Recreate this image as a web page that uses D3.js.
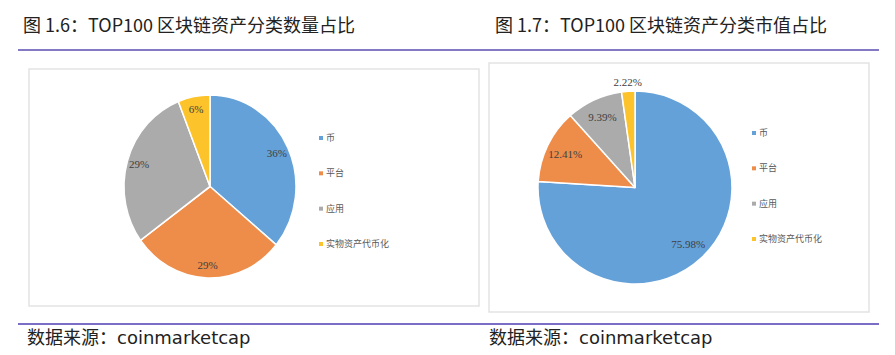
<!DOCTYPE html>
<html><head><meta charset="utf-8">
<script src="https://cdn.jsdelivr.net/npm/d3@7/dist/d3.min.js"></script>
<style>
html,body{margin:0;padding:0;background:#fff;}
svg{display:block;}
.serif{font-family:"Liberation Serif","DejaVu Serif",serif;}
.cjk{font-family:"Noto Sans CJK SC","Noto Sans",sans-serif;}
.mix{font-family:"DejaVu Sans","Noto Sans CJK SC",sans-serif;}
</style></head>
<body>
<svg id="c" width="895" height="355"></svg>
<script>
const categories = ["币", "平台", "应用", "实物资产代币化"];
const countShare = [36, 29, 29, 6];
const countLabels = ["36%", "29%", "29%", "6%"];
const valueShare = [75.98, 12.41, 9.39, 2.22];
const valueLabels = ["75.98%", "12.41%", "9.39%", "2.22%"];
const colors = ["#64a1d9", "#ee8c4a", "#ababab", "#fdc32a"];
const titles = ["图 1.6：TOP100 区块链资产分类数量占比", "图 1.7：TOP100 区块链资产分类市值占比"];
const sourceText = "数据来源：coinmarketcap";

const svg = d3.select("#c");

// titles
svg.append("text").attr("class", "cjk").attr("x", 23).attr("y", 32).attr("font-size", 18).attr("fill", "#222").text(titles[0]);
svg.append("text").attr("class", "cjk").attr("x", 495).attr("y", 32).attr("font-size", 18).attr("fill", "#222").text(titles[1]);

// rules
svg.append("line").attr("x1", 18).attr("x2", 879).attr("y1", 50).attr("y2", 50).attr("stroke", "#5a4cb2").attr("stroke-width", 1.5);
svg.append("line").attr("x1", 18).attr("x2", 879).attr("y1", 324).attr("y2", 324).attr("stroke", "#7a6ec6").attr("stroke-width", 2);

// frames
svg.append("rect").attr("x", 29).attr("y", 69).attr("width", 450).attr("height", 237).attr("fill", "none").attr("stroke", "#e3e3e3").attr("stroke-width", 1.5);
svg.append("rect").attr("x", 489).attr("y", 63).attr("width", 380).attr("height", 249).attr("fill", "none").attr("stroke", "#e3e3e3").attr("stroke-width", 1.5);

// sources
svg.append("text").attr("class", "mix").attr("x", 27).attr("y", 344).attr("font-size", 18).attr("fill", "#222").text(sourceText);
svg.append("text").attr("class", "mix").attr("x", 489).attr("y", 344).attr("font-size", 18).attr("fill", "#222").text(sourceText);

function drawPie(cx, cy, rx, ry, values, labels, labelK, legendX, legendY) {
  const g = svg.append("g").attr("transform", `translate(${cx},${cy}) scale(1,${ry / rx})`);
  const pie = d3.pie().sort(null).value(d => d)(values);
  const total = d3.sum(values);
  const arc = d3.arc().innerRadius(0).outerRadius(rx);
  g.selectAll("path").data(pie).join("path")
    .attr("d", arc).attr("fill", (d, i) => colors[i])
    .attr("stroke", "#fff").attr("stroke-width", 1.5).attr("stroke-linejoin", "round");
  const lg = svg.append("g").attr("transform", `translate(${cx},${cy})`);
  pie.forEach((d, i) => {
    const a = (d.startAngle + d.endAngle) / 2;
    const k = d.value / total < 0.05 && labelK < 0.85 ? 1.09 : labelK;
    const x = Math.sin(a) * rx * k, y = -Math.cos(a) * ry * k;
    lg.append("text").attr("class", "serif").attr("x", x).attr("y", y).attr("dy", "0.35em")
      .attr("text-anchor", "middle")
      .attr("font-size", 11).attr("fill", "#404040").text(labels[i]);
  });
  const y = d3.scalePoint().domain(categories).range([legendY, legendY + 106]);
  const leg = svg.append("g");
  categories.forEach((c, i) => {
    leg.append("rect").attr("x", legendX - 2).attr("y", y(c) - 2).attr("width", 4).attr("height", 4).attr("fill", colors[i]);
    leg.append("text").attr("class", "cjk").attr("x", legendX + 5).attr("y", y(c)).attr("dy", "0.35em")
      .attr("font-size", 9).attr("fill", "#595959").text(c);
  });
}

drawPie(210, 186.5, 86, 91.5, countShare, countLabels, 0.86, 321, 138);
drawPie(635, 187.5, 97, 96.5, valueShare, valueLabels, 0.8, 754, 133);
</script>
</body></html>
